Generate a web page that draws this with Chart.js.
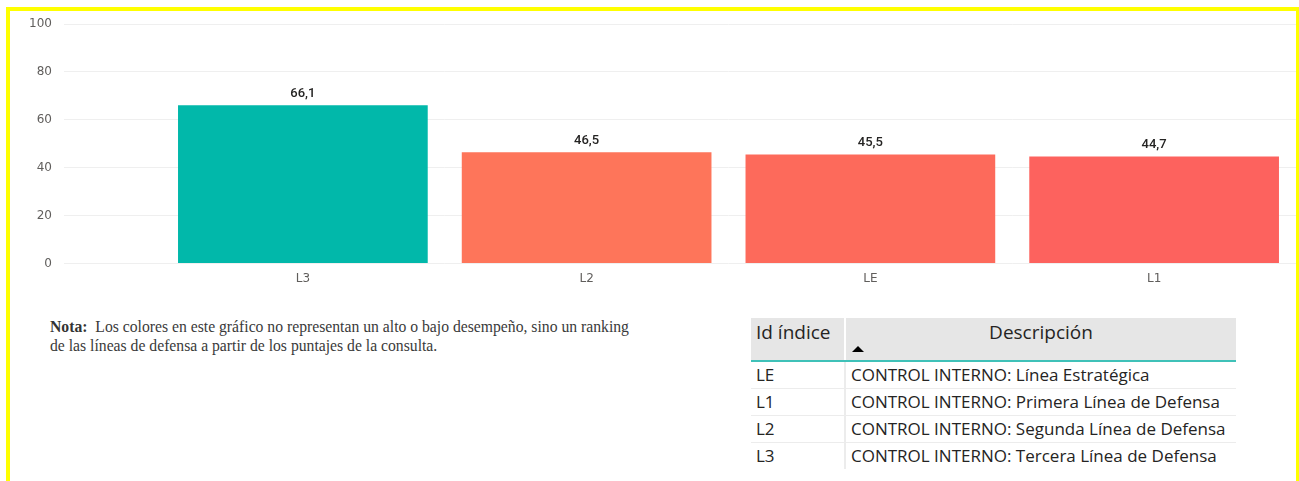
<!DOCTYPE html>
<html lang="es">
<head>
<meta charset="utf-8">
<script src="https://cdn.jsdelivr.net/npm/chart.js@4.4.1/dist/chart.umd.min.js"></script>
<style>
  html, body { margin: 0; padding: 0; background: #ffffff; width: 1299px; height: 481px; overflow: hidden; }
  #frame { position: absolute; left: 6px; top: 7px; width: 1294px; height: 490px; border: 4px solid #ffff00; box-sizing: border-box; pointer-events: none; z-index: 5; }
  #chartBox { position: absolute; left: 0; top: 0; width: 1296px; height: 286px; }
  #note { position: absolute; left: 50px; top: 317px; width: 640px; font-family: "Liberation Serif", "Times New Roman", serif; font-size: 15.7px; line-height: 19px; color: #3a3a3a; white-space: nowrap; }
  #note b { color: #333; }
  #legendTable { position: absolute; left: 751px; top: 318px; width: 485px; border-collapse: collapse; font-family: "Open Sans", sans-serif; color: #252423; }
  #legendTable th { background: #e6e6e6; font-weight: normal; font-size: 19px; height: 42px; padding: 0; border-bottom: 2px solid #3fc1b8; vertical-align: top; }
  #legendTable th.id { width: 88px; text-align: left; padding-left: 5px; border-right: 2px solid #ffffff; }
  #legendTable th.id span { display: block; padding-top: 1px; }
  #legendTable th.desc { text-align: center; position: relative; }
  #legendTable th.desc span { display: block; padding-top: 1px; }
  #legendTable th.desc i { position: absolute; left: 6px; top: 28px; width: 0; height: 0; border-left: 6px solid transparent; border-right: 6px solid transparent; border-bottom: 6px solid #000; }
  #legendTable td { font-size: 17px; height: 26px; line-height: 24px; padding: 0 0 0 5px; border-bottom: 1px solid #ececec; white-space: nowrap; vertical-align: middle; }
  #legendTable td.id { border-right: 2px solid #ececec; }
  #legendTable tr:last-child td { border-bottom: none; }
</style>
</head>
<body>
<div id="chartBox"><canvas id="chart"></canvas></div>
<div id="note"><b>Nota:</b>&nbsp; Los colores en este gráfico no representan un alto o bajo desempeño, sino un ranking<br>de las líneas de defensa a partir de los puntajes de la consulta.</div>
<table id="legendTable">
  <thead><tr><th class="id"><span>Id índice</span></th><th class="desc"><span>Descripción</span><i></i></th></tr></thead>
  <tbody id="legendBody"></tbody>
</table>
<div id="frame"></div>
<script>
// Defense lines, ordered by score
const categories = ["L3", "L2", "LE", "L1"];
const scores = [66.1, 46.5, 45.5, 44.7];
const barColors = ["#01b8aa", "#fe755a", "#fd6a5b", "#fd625e"];
const yTicks = [0, 20, 40, 60, 80, 100];

// Description table
const lineIds = ["LE", "L1", "L2", "L3"];
const lineNames = [
  "CONTROL INTERNO: Línea Estratégica",
  "CONTROL INTERNO: Primera Línea de Defensa",
  "CONTROL INTERNO: Segunda Línea de Defensa",
  "CONTROL INTERNO: Tercera Línea de Defensa"
];

const body = document.getElementById("legendBody");
lineIds.forEach((id, i) => {
  const tr = document.createElement("tr");
  const a = document.createElement("td"); a.className = "id"; a.textContent = id;
  const b = document.createElement("td"); b.textContent = lineNames[i];
  tr.appendChild(a); tr.appendChild(b); body.appendChild(tr);
});

const fmt = v => v.toFixed(1).replace(".", ",");

// value labels above each bar
const valueLabels = {
  id: "valueLabels",
  afterDatasetsDraw(chart) {
    const ctx = chart.ctx;
    const meta = chart.getDatasetMeta(0);
    ctx.save();
    ctx.font = "500 13px Roboto, sans-serif";
    ctx.fillStyle = "#252423";
    ctx.textAlign = "center";
    ctx.textBaseline = "bottom";
    meta.data.forEach((bar, i) => {
      ctx.fillText(fmt(chart.data.datasets[0].data[i]), bar.x, bar.y - 5);
    });
    ctx.restore();
  }
};

const gridColor = "#efefef";

new Chart(document.getElementById("chart"), {
  type: "bar",
  data: {
    labels: categories,
    datasets: [{
      data: scores,
      backgroundColor: barColors,
      borderWidth: 0,
      barPercentage: 0.88,
      categoryPercentage: 1.0
    }]
  },
  options: {
    responsive: true,
    maintainAspectRatio: false,
    animation: false,
    layout: { padding: { top: 24, right: 0, left: 0, bottom: 0 } },
    plugins: { legend: { display: false }, tooltip: { enabled: false } },
    scales: {
      x: {
        grid: { display: false },
        border: { display: false },
        ticks: { color: "#605e5c", font: { family: "DejaVu Sans", size: 12 }, padding: 0 }
      },
      y: {
        min: 0,
        max: 100,
        afterBuildTicks(scale) { scale.ticks = yTicks.map(v => ({ value: v })); },
        afterFit(scale) { scale.width = 161; },
        grid: { color: gridColor, lineWidth: 1, tickLength: 97, tickColor: gridColor },
        border: { display: false },
        ticks: { color: "#605e5c", font: { family: "DejaVu Sans", size: 12 }, padding: 12 }
      }
    }
  },
  plugins: [valueLabels]
});
</script>
</body>
</html>
